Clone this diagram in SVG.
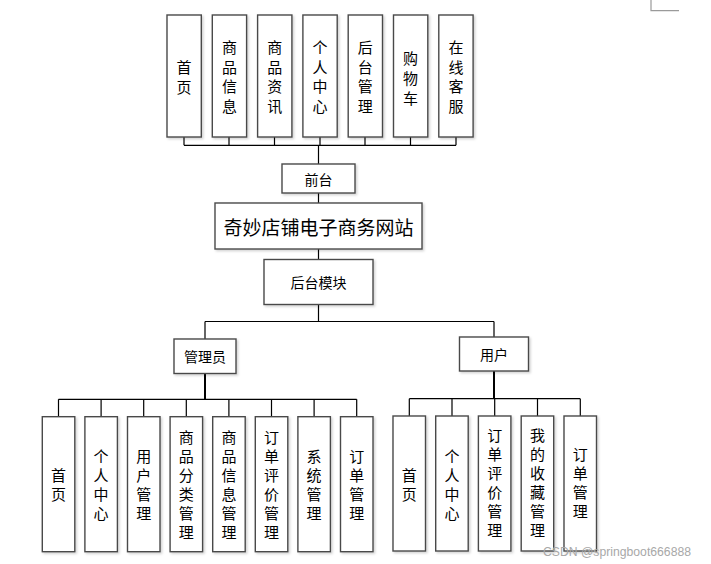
<svg xmlns="http://www.w3.org/2000/svg" width="711" height="564" viewBox="0 0 711 564">
<defs>
<filter id="sh" x="-20%" y="-20%" width="150%" height="150%">
<feDropShadow dx="1.5" dy="1.5" stdDeviation="1" flood-color="#000" flood-opacity="0.18"/>
</filter>
</defs>
<style>
.b{fill:#fff;stroke:#4a4a4a;stroke-width:1.4;filter:url(#sh)}
.c{fill:none;stroke:#000;stroke-width:1.2}
.c2{fill:none;stroke:#000;stroke-width:2}
text{font-family:"Microsoft YaHei","Noto Sans CJK SC",sans-serif;fill:#000;text-anchor:middle;dominant-baseline:central}
.v{font-size:15px}
.h{font-size:14px}
.t{font-size:19px}
.wm{font-family:"Liberation Sans",Arial,sans-serif;font-size:12.5px;fill:#a8a8a8;text-anchor:start;dominant-baseline:auto}
</style>
<rect width="711" height="564" fill="#fff"/>
<path d="M651 0V10.7H679" fill="none" stroke="#9a9a9a" stroke-width="1.2"/>

<g id="connectors">
<path class="c" d="M184 137V145.3M229 137V145.3M274.5 137V145.3M320 137V145.3M365 137V145.3M410.5 137V145.3M456 137V145.3M184 145.3H456"/>
<path class="c" d="M318.5 145.3V164M318.5 193V203M318.5 249V259.5M318.5 304.5V321.5M205 321.5H494M205 321.5V339M494 321.5V337"/>
<path class="c2" d="M205 373.5V399.3M494 371V398.7"/>
<path class="c" d="M58.5 399.3H356.7M58.5 399.3V416.7M101.1 399.3V416.7M143.7 399.3V416.7M186.3 399.3V416.7M228.9 399.3V416.7M271.5 399.3V416.7M314.1 399.3V416.7M356.7 399.3V416.7"/>
<path class="c" d="M409.3 398.7H580.3M409.3 398.7V416M452 398.7V416M494.7 398.7V416M537.5 398.7V416M580.3 398.7V416"/>
</g>

<g id="t1"><rect class="b" x="167" y="15" width="34.3" height="122"/><text class="v"><tspan x="184.1" y="66">首</tspan><tspan x="184.1" y="85.5">页</tspan></text></g>
<g id="t2"><rect class="b" x="212.3" y="15" width="34.3" height="122"/><text class="v"><tspan x="229.4" y="46.3">商</tspan><tspan x="229.4" y="65.8">品</tspan><tspan x="229.4" y="85.3">信</tspan><tspan x="229.4" y="104.8">息</tspan></text></g>
<g id="t3"><rect class="b" x="257.6" y="15" width="34.3" height="122"/><text class="v"><tspan x="274.7" y="46.3">商</tspan><tspan x="274.7" y="65.8">品</tspan><tspan x="274.7" y="85.3">资</tspan><tspan x="274.7" y="104.8">讯</tspan></text></g>
<g id="t4"><rect class="b" x="302.9" y="15" width="34.3" height="122"/><text class="v"><tspan x="320" y="46.3">个</tspan><tspan x="320" y="65.8">人</tspan><tspan x="320" y="85.3">中</tspan><tspan x="320" y="104.8">心</tspan></text></g>
<g id="t5"><rect class="b" x="348.2" y="15" width="34.3" height="122"/><text class="v"><tspan x="365.3" y="46.3">后</tspan><tspan x="365.3" y="65.8">台</tspan><tspan x="365.3" y="85.3">管</tspan><tspan x="365.3" y="104.8">理</tspan></text></g>
<g id="t6"><rect class="b" x="393.5" y="15" width="34.3" height="122"/><text class="v"><tspan x="410.6" y="56.5">购</tspan><tspan x="410.6" y="76.5">物</tspan><tspan x="410.6" y="96.5">车</tspan></text></g>
<g id="t7"><rect class="b" x="438.8" y="15" width="34.3" height="122"/><text class="v"><tspan x="455.9" y="46.3">在</tspan><tspan x="455.9" y="65.8">线</tspan><tspan x="455.9" y="85.3">客</tspan><tspan x="455.9" y="104.8">服</tspan></text></g>

<g id="qiantai"><rect class="b" x="282" y="164" width="73" height="29"/><text class="h" x="318.5" y="178.5">前台</text></g>
<g id="site"><rect class="b" x="215" y="203" width="207" height="46"/><text class="t" x="318.5" y="226">奇妙店铺电子商务网站</text></g>
<g id="houtai"><rect class="b" x="264" y="259.5" width="109" height="45"/><text class="h" x="318.5" y="282">后台模块</text></g>
<g id="admin"><rect class="b" x="174" y="339" width="62" height="34.5"/><text class="h" x="205" y="356">管理员</text></g>
<g id="user"><rect class="b" x="459.5" y="337" width="69" height="34"/><text class="h" x="494" y="354">用户</text></g>

<g id="a1"><rect class="b" x="42.3" y="416.7" width="32.5" height="135"/><text class="v"><tspan x="58.5" y="473.5">首</tspan><tspan x="58.5" y="492.5">页</tspan></text></g>
<g id="a2"><rect class="b" x="84.9" y="416.7" width="32.5" height="135"/><text class="v"><tspan x="101.1" y="455">个</tspan><tspan x="101.1" y="474">人</tspan><tspan x="101.1" y="493">中</tspan><tspan x="101.1" y="512">心</tspan></text></g>
<g id="a3"><rect class="b" x="127.5" y="416.7" width="32.5" height="135"/><text class="v"><tspan x="143.7" y="455">用</tspan><tspan x="143.7" y="474">户</tspan><tspan x="143.7" y="493">管</tspan><tspan x="143.7" y="512">理</tspan></text></g>
<g id="a4"><rect class="b" x="170.1" y="416.7" width="32.5" height="135"/><text class="v"><tspan x="186.3" y="436">商</tspan><tspan x="186.3" y="455">品</tspan><tspan x="186.3" y="474">分</tspan><tspan x="186.3" y="493">类</tspan><tspan x="186.3" y="512">管</tspan><tspan x="186.3" y="531">理</tspan></text></g>
<g id="a5"><rect class="b" x="212.7" y="416.7" width="32.5" height="135"/><text class="v"><tspan x="228.9" y="436">商</tspan><tspan x="228.9" y="455">品</tspan><tspan x="228.9" y="474">信</tspan><tspan x="228.9" y="493">息</tspan><tspan x="228.9" y="512">管</tspan><tspan x="228.9" y="531">理</tspan></text></g>
<g id="a6"><rect class="b" x="255.3" y="416.7" width="32.5" height="135"/><text class="v"><tspan x="271.5" y="436">订</tspan><tspan x="271.5" y="455">单</tspan><tspan x="271.5" y="474">评</tspan><tspan x="271.5" y="493">价</tspan><tspan x="271.5" y="512">管</tspan><tspan x="271.5" y="531">理</tspan></text></g>
<g id="a7"><rect class="b" x="297.9" y="416.7" width="32.5" height="135"/><text class="v"><tspan x="314.1" y="455">系</tspan><tspan x="314.1" y="474">统</tspan><tspan x="314.1" y="493">管</tspan><tspan x="314.1" y="512">理</tspan></text></g>
<g id="a8"><rect class="b" x="340.5" y="416.7" width="32.5" height="135"/><text class="v"><tspan x="356.7" y="455">订</tspan><tspan x="356.7" y="474">单</tspan><tspan x="356.7" y="493">管</tspan><tspan x="356.7" y="512">理</tspan></text></g>

<g id="u1"><rect class="b" x="393" y="416" width="32.5" height="135"/><text class="v"><tspan x="409.3" y="473.5">首</tspan><tspan x="409.3" y="492.5">页</tspan></text></g>
<g id="u2"><rect class="b" x="435.7" y="416" width="32.5" height="135"/><text class="v"><tspan x="452" y="455">个</tspan><tspan x="452" y="474">人</tspan><tspan x="452" y="493">中</tspan><tspan x="452" y="512">心</tspan></text></g>
<g id="u3"><rect class="b" x="478.4" y="416" width="32.5" height="135"/><text class="v"><tspan x="494.7" y="434">订</tspan><tspan x="494.7" y="453">单</tspan><tspan x="494.7" y="472">评</tspan><tspan x="494.7" y="491">价</tspan><tspan x="494.7" y="510">管</tspan><tspan x="494.7" y="529">理</tspan></text></g>
<g id="u4"><rect class="b" x="521.2" y="416" width="32.5" height="135"/><text class="v"><tspan x="537.5" y="434">我</tspan><tspan x="537.5" y="453">的</tspan><tspan x="537.5" y="472">收</tspan><tspan x="537.5" y="491">藏</tspan><tspan x="537.5" y="510">管</tspan><tspan x="537.5" y="529">理</tspan></text></g>
<g id="u5"><rect class="b" x="564" y="416" width="32.5" height="135"/><text class="v"><tspan x="580.3" y="453">订</tspan><tspan x="580.3" y="472">单</tspan><tspan x="580.3" y="491">管</tspan><tspan x="580.3" y="510">理</tspan></text></g>

<text class="wm" x="543" y="556" textLength="148" lengthAdjust="spacingAndGlyphs">CSDN @springboot666888</text>
</svg>
